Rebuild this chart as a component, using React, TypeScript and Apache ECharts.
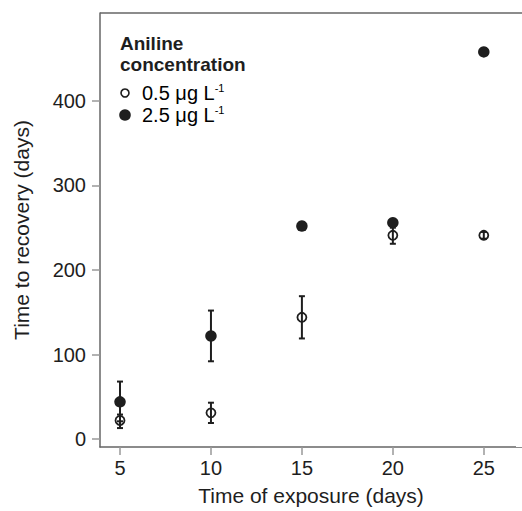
import React, { useEffect, useRef } from "react";
import * as echarts from "echarts";

const exposure = [5, 10, 15, 20, 25];
const openMean = [22, 31, 144, 241, 241];
const openLow = [13, 19, 119, 231, 237];
const openHigh = [29, 43, 169, 250, 245];
const filledMean = [44, 122, 252, 256, 458];
const filledLow: (number | null)[] = [21, 92, null, null, null];
const filledHigh: (number | null)[] = [68, 152, null, null, null];
const xTicks = [5, 10, 15, 20, 25];
const yTicks = [0, 100, 200, 300, 400];

const FONT = "Liberation Sans, Arial, Helvetica, sans-serif";
const INK = "#1e1e1e";
const AXIS = "#666666";

export default function App() {
  const ref = useRef<HTMLDivElement>(null);
  useEffect(() => {
    if (!ref.current) return;
    const chart = echarts.init(ref.current, null, { renderer: "svg" });

    const errData: number[][] = [];
    exposure.forEach((x, i) => {
      errData.push([x, openLow[i], openHigh[i]]);
    });
    exposure.forEach((x, i) => {
      if (filledLow[i] != null && filledHigh[i] != null) {
        errData.push([x, filledLow[i] as number, filledHigh[i] as number]);
      }
    });

    const renderErr = (params: any, api: any) => {
      const x = api.value(0);
      const lo = api.coord([x, api.value(1)]);
      const hi = api.coord([x, api.value(2)]);
      const hw = 3;
      const style = { stroke: INK, lineWidth: 2 };
      return {
        type: "group",
        children: [
          { type: "line", shape: { x1: lo[0], y1: lo[1], x2: hi[0], y2: hi[1] }, style },
          { type: "line", shape: { x1: lo[0] - hw, y1: lo[1], x2: lo[0] + hw, y2: lo[1] }, style },
          { type: "line", shape: { x1: hi[0] - hw, y1: hi[1], x2: hi[0] + hw, y2: hi[1] }, style },
        ],
      };
    };

    const supRich = {
      a: { fontSize: 20, fontFamily: FONT, color: INK },
      s: { fontSize: 11, fontFamily: FONT, color: INK, verticalAlign: "top", padding: [0, 0, 10, 0] },
    };

    const option: any = {
      animation: false,
      backgroundColor: "#ffffff",
      textStyle: { fontFamily: FONT },
      grid: { left: 100, right: 0, top: 13, bottom: 63, containLabel: false },
      xAxis: {
        type: "value",
        min: 3.9,
        max: 27.1,
        name: "Time of exposure (days)",
        nameLocation: "middle",
        nameGap: 38,
        nameTextStyle: { fontSize: 21, color: INK, fontFamily: FONT },
        axisLine: { show: true, onZero: false, lineStyle: { color: AXIS, width: 1.5 } },
        axisTick: { show: true, length: 8, customValues: xTicks, lineStyle: { color: "#999999", width: 1.5 } },
        axisLabel: { customValues: xTicks, fontSize: 20, color: INK, margin: 11, fontFamily: FONT },
        splitLine: { show: false },
      },
      yAxis: {
        type: "value",
        min: -9.4,
        max: 504,
        name: "Time to recovery (days)",
        nameLocation: "middle",
        nameGap: 68,
        nameTextStyle: { fontSize: 21, color: INK, fontFamily: FONT },
        axisLine: { show: true, onZero: false, lineStyle: { color: AXIS, width: 1.5 } },
        axisTick: { show: true, length: 8, customValues: yTicks, lineStyle: { color: "#999999", width: 1.5 } },
        axisLabel: { customValues: yTicks, fontSize: 20, color: INK, margin: 14, fontFamily: FONT },
        splitLine: { show: false },
      },
      series: [
        {
          type: "custom",
          name: "error",
          renderItem: renderErr,
          data: errData,
          z: 1,
        },
        {
          type: "scatter",
          name: "0.5 μg L-1",
          data: exposure.map((x, i) => [x, openMean[i]]),
          symbol: "circle",
          symbolSize: 9,
          itemStyle: { color: "rgba(0,0,0,0)", borderColor: INK, borderWidth: 1.8, opacity: 1 },
          z: 2,
        },
        {
          type: "scatter",
          name: "2.5 μg L-1",
          data: exposure.map((x, i) => [x, filledMean[i]]),
          symbol: "circle",
          symbolSize: 11.5,
          itemStyle: { color: INK, opacity: 1 },
          z: 3,
        },
      ],
      graphic: [
        {
          type: "rect",
          z: 100,
          shape: { x: 516, y: 14, width: 6, height: 433 },
          style: { fill: "#ffffff" },
        },
        {
          type: "line",
          shape: { x1: 100, y1: 13, x2: 522, y2: 13 },
          style: { stroke: AXIS, lineWidth: 1.5 },
        },
        {
          type: "text",
          left: 120,
          top: 33,
          style: {
            text: "Aniline\nconcentration",
            font: `bold 19px ${FONT}`,
            fill: INK,
            lineHeight: 21,
          },
        },
        {
          type: "circle",
          shape: { cx: 125, cy: 93, r: 4 },
          style: { fill: "#ffffff", stroke: INK, lineWidth: 1.6 },
        },
        {
          type: "circle",
          shape: { cx: 125, cy: 115, r: 5.8 },
          style: { fill: INK },
        },
        {
          type: "text",
          x: 142,
          y: 93,
          style: { text: "{a|0.5 μg L}{s|-1}", verticalAlign: "middle", rich: supRich },
        },
        {
          type: "text",
          x: 142,
          y: 115,
          style: { text: "{a|2.5 μg L}{s|-1}", verticalAlign: "middle", rich: supRich },
        },
      ],
    };
    chart.setOption(option);
    return () => chart.dispose();
  }, []);
  return (
    <div
      ref={ref}
      style={{ position: "fixed", left: 0, top: 0, width: 522, height: 511, background: "#fff" }}
    />
  );
}
